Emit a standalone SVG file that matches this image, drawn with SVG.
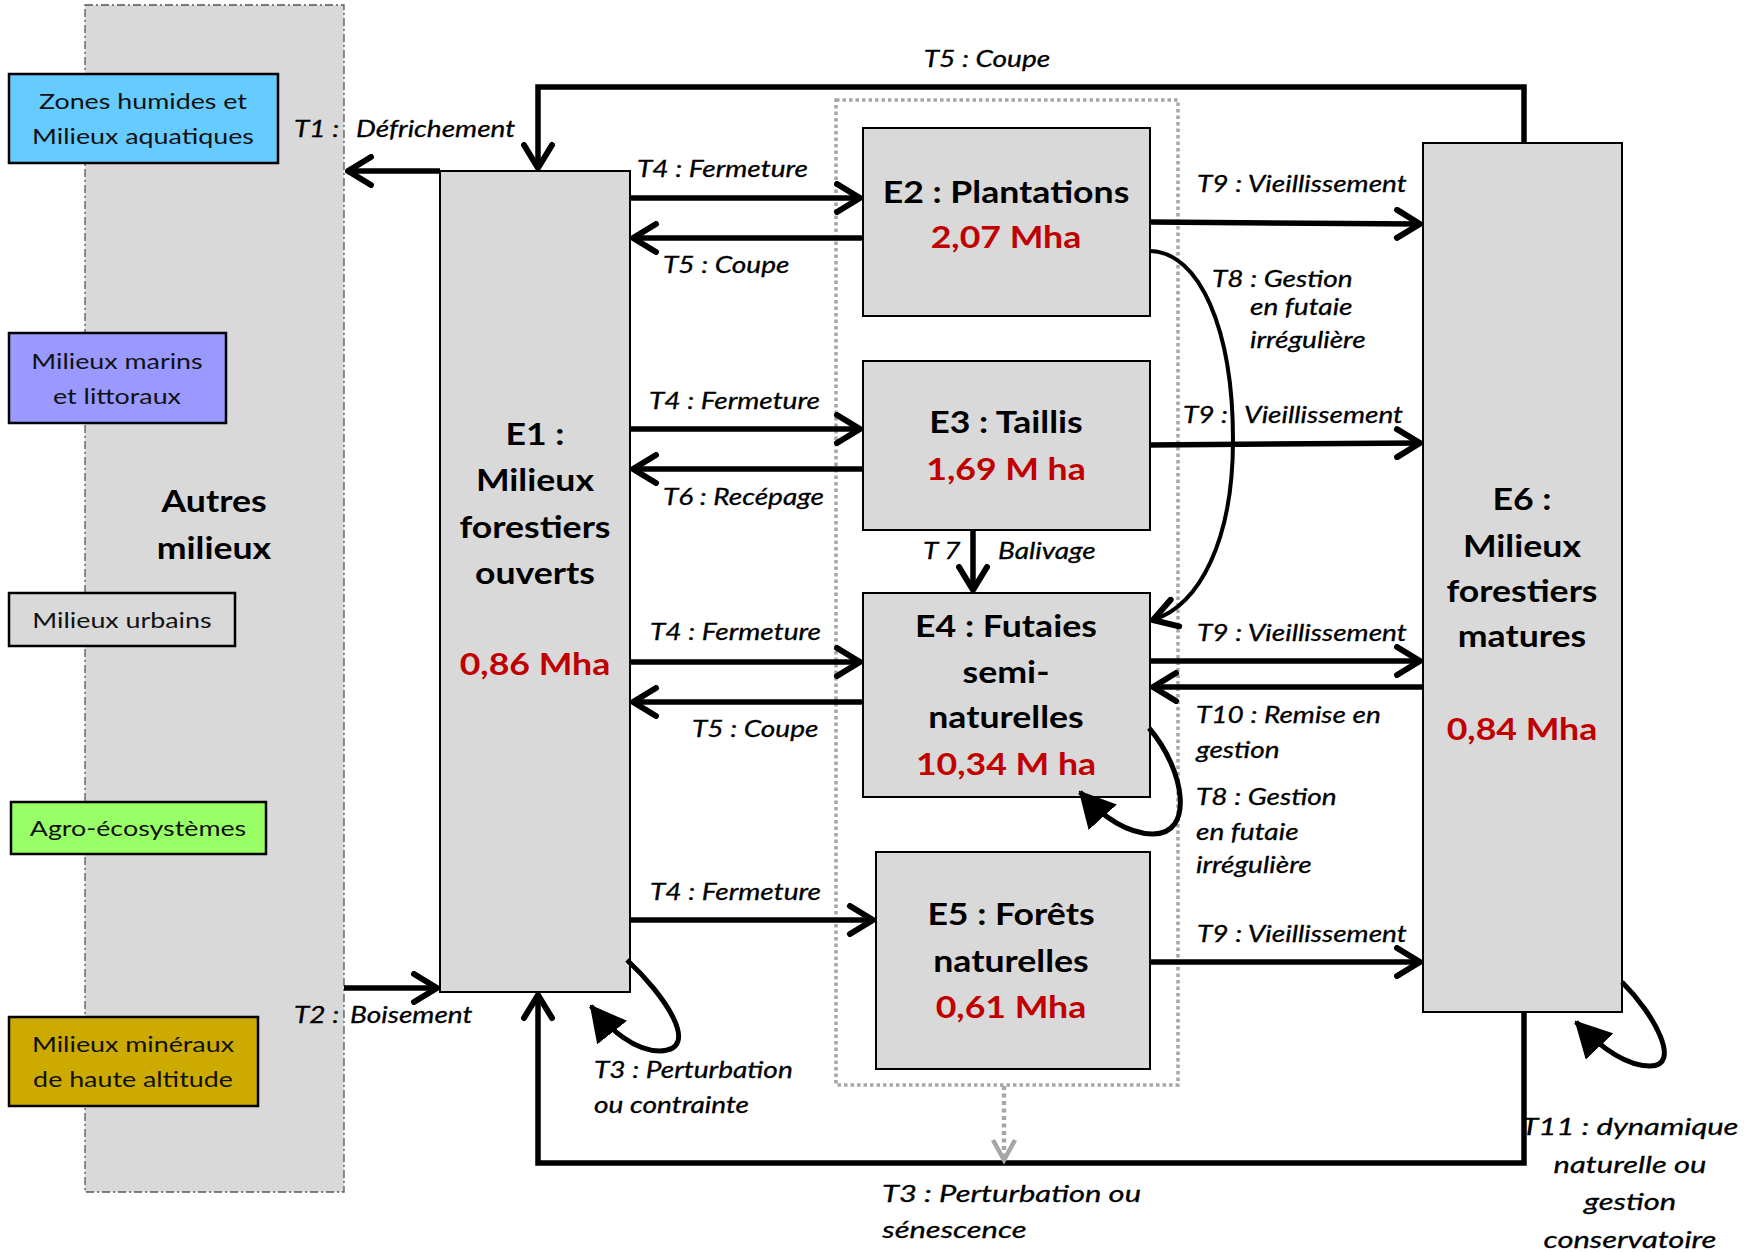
<svg xmlns="http://www.w3.org/2000/svg" width="1754" height="1252" viewBox="0 0 1754 1252">
<style>
.box{fill:#d9d9d9;stroke:#000;stroke-width:2}
.sbox{stroke:#000;stroke-width:2.5}
.sm{font-family:Lato,'Open Sans',sans-serif;font-size:22px;fill:#111;text-anchor:middle;transform-box:fill-box;transform-origin:50% 50%;transform:scaleX(1.22)}
.ttl{font-family:Lato,'Open Sans',sans-serif;font-weight:bold;font-size:31px;fill:#000;text-anchor:middle;transform-box:fill-box;transform-origin:50% 50%;transform:scaleX(1.15)}
.red{fill:#c00000}
.lbl{font-family:Lato,'Open Sans',sans-serif;font-style:italic;font-size:23px;fill:#000;stroke:#000;stroke-width:0.3;transform-box:fill-box;transform-origin:0 50%;transform:scaleX(1.22)}
.mid{text-anchor:middle;transform-origin:50% 50%}
.big{font-size:24px;transform:scaleX(1.29)}
.ln{fill:none;stroke:#000;stroke-width:5.5;marker-end:url(#ch)}
.loop{fill:none;stroke:#000;stroke-width:5;marker-end:url(#tri)}
</style>
<defs>
<marker id="ch" markerUnits="userSpaceOnUse" viewBox="0 0 34 34" refX="29" refY="17" markerWidth="34" markerHeight="34" orient="auto"><path d="M6,3 L29,17 L6,31" fill="none" stroke="#000" stroke-width="6" stroke-linecap="round" stroke-linejoin="round"/></marker>
<marker id="chg" markerUnits="userSpaceOnUse" viewBox="0 0 30 30" refX="26" refY="15" markerWidth="30" markerHeight="30" orient="auto"><path d="M6,4 L26,15 L6,26" fill="none" stroke="#a6a6a6" stroke-width="4.5" stroke-linecap="butt" stroke-linejoin="miter"/></marker>
<marker id="tri" markerUnits="userSpaceOnUse" viewBox="0 0 36 38" refX="34" refY="19" markerWidth="36" markerHeight="38" orient="auto"><path d="M0,0 L36,19 L0,38 Z" fill="#000"/></marker>
</defs>
<rect width="1754" height="1252" fill="#fff"/>

<g id="autres-milieux">
<rect x="85" y="5" width="259" height="1187" fill="#d9d9d9" stroke="#555" stroke-width="1.3" stroke-dasharray="8,3,2,3"/>
<text class="ttl" x="214" y="512" font-size="32">Autres</text>
<text class="ttl" x="214" y="559" font-size="32">milieux</text>
</g>
<g id="zones-humides">
<rect class="sbox" x="9" y="74" width="269" height="89" fill="#66ccff"/>
<text class="sm" x="143" y="109">Zones humides et</text>
<text class="sm" x="143" y="144">Milieux aquatiques</text>
</g>
<g id="milieux-marins">
<rect class="sbox" x="9" y="333" width="217" height="90" fill="#9999ff"/>
<text class="sm" x="117" y="369">Milieux marins</text>
<text class="sm" x="117" y="404">et littoraux</text>
</g>
<g id="milieux-urbains">
<rect class="sbox" x="9" y="593" width="226" height="53" fill="#d9d9d9"/>
<text class="sm" x="122" y="628">Milieux urbains</text>
</g>
<g id="agro-ecosystemes">
<rect class="sbox" x="11" y="802" width="255" height="52" fill="#99ff66"/>
<text class="sm" x="138" y="836">Agro-écosystèmes</text>
</g>
<g id="milieux-mineraux">
<rect class="sbox" x="9" y="1017" width="249" height="89" fill="#ccaa00"/>
<text class="sm" x="133" y="1052">Milieux minéraux</text>
<text class="sm" x="133" y="1087">de haute altitude</text>
</g>

<g id="groupe-E2-E5">
<rect x="836" y="100" width="342" height="985" fill="none" stroke="#a6a6a6" stroke-width="3.5" stroke-dasharray="3.5,3"/>
</g>

<g id="E1">
<rect class="box" x="440" y="171" width="190" height="821"/>
<text class="ttl" x="535" y="445">E1 :</text>
<text class="ttl" x="535" y="491">Milieux</text>
<text class="ttl" x="535" y="538">forestiers</text>
<text class="ttl" x="535" y="584">ouverts</text>
<text class="ttl red" x="535" y="675">0,86 Mha</text>
</g>
<g id="E2">
<rect class="box" x="863" y="128" width="287" height="188"/>
<text class="ttl" x="1006" y="203">E2 : Plantations</text>
<text class="ttl red" x="1006" y="248">2,07 Mha</text>
</g>
<g id="E3">
<rect class="box" x="863" y="361" width="287" height="169"/>
<text class="ttl" x="1006" y="433">E3 : Taillis</text>
<text class="ttl red" x="1006" y="480">1,69 M ha</text>
</g>
<g id="E4">
<rect class="box" x="863" y="593" width="287" height="204"/>
<text class="ttl" x="1006" y="637">E4 : Futaies</text>
<text class="ttl" x="1006" y="683">semi-</text>
<text class="ttl" x="1006" y="728">naturelles</text>
<text class="ttl red" x="1006" y="775">10,34 M ha</text>
</g>
<g id="E5">
<rect class="box" x="876" y="852" width="274" height="217"/>
<text class="ttl" x="1011" y="925">E5 : Forêts</text>
<text class="ttl" x="1011" y="972">naturelles</text>
<text class="ttl red" x="1011" y="1018">0,61 Mha</text>
</g>
<g id="E6">
<rect class="box" x="1423" y="143" width="199" height="869"/>
<text class="ttl" x="1522" y="510">E6 :</text>
<text class="ttl" x="1522" y="557">Milieux</text>
<text class="ttl" x="1522" y="602">forestiers</text>
<text class="ttl" x="1522" y="647">matures</text>
<text class="ttl red" x="1522" y="740">0,84 Mha</text>
</g>

<g id="connectors">
<path class="ln" d="M440,171 L348,171"/>
<path class="ln" d="M344,988 L437,988"/>
<path class="ln" d="M1524,143 L1524,87 L538,87 L538,168"/>
<path class="ln" d="M1524,1012 L1524,1163 L538,1163 L538,995"/>
<path d="M1004,1086 L1004,1160" fill="none" stroke="#a6a6a6" stroke-width="4.5" stroke-dasharray="4,3.5" marker-end="url(#chg)"/>
<path class="ln" d="M630,198 L860,198"/>
<path class="ln" d="M863,238 L633,238"/>
<path class="ln" d="M630,429 L860,429"/>
<path class="ln" d="M863,469 L633,469"/>
<path class="ln" d="M630,662 L860,662"/>
<path class="ln" d="M863,702 L633,702"/>
<path class="ln" d="M630,920 L873,920"/>
<path class="ln" d="M973,530 L973,590"/>
<path class="ln" d="M1150,222 L1420,224"/>
<path class="ln" d="M1150,445 L1420,443"/>
<path class="ln" d="M1150,661 L1420,661"/>
<path class="ln" d="M1423,687 L1153,687"/>
<path class="ln" d="M1150,962 L1420,962"/>
<path d="M1150,251 C1200,252 1233,330 1233,440 C1233,540 1200,605 1153,620" fill="none" stroke="#000" stroke-width="4" marker-end="url(#ch)"/>
<path class="loop" d="M1149,728 C1185,770 1195,835 1152,834 C1122,833 1098,812 1080,792"/>
<path class="loop" d="M627,960 C665,995 702,1050 660,1051 C635,1051 610,1030 591,1006"/>
<path class="loop" d="M1622,982 C1655,1015 1682,1066 1650,1066 C1625,1066 1598,1045 1576,1022"/>

<text class="lbl mid" x="987" y="67">T5 : Coupe</text>
<text class="lbl" x="294" y="137">T1 :</text>
<text class="lbl" x="356" y="137">Défrichement</text>
<text class="lbl" x="294" y="1023">T2 :</text>
<text class="lbl" x="350" y="1023">Boisement</text>
<text class="lbl" x="637" y="177">T4 : Fermeture</text>
<text class="lbl" x="663" y="273">T5 : Coupe</text>
<text class="lbl" x="649" y="409">T4 : Fermeture</text>
<text class="lbl" x="663" y="505">T6 : Recépage</text>
<text class="lbl" x="923" y="559">T 7</text>
<text class="lbl" x="998" y="559">Balivage</text>
<text class="lbl" x="650" y="640">T4 : Fermeture</text>
<text class="lbl" x="692" y="737">T5 : Coupe</text>
<text class="lbl" x="650" y="900">T4 : Fermeture</text>
<text class="lbl" x="594" y="1078">T3 : Perturbation</text>
<text class="lbl" x="594" y="1113">ou contrainte</text>
<text class="lbl big" x="882" y="1202">T3 : Perturbation ou</text>
<text class="lbl big" x="882" y="1238">sénescence</text>
<text class="lbl" x="1197" y="192">T9 : Vieillissement</text>
<text class="lbl" x="1212" y="287">T8 : Gestion</text>
<text class="lbl" x="1250" y="315">en futaie</text>
<text class="lbl" x="1250" y="348">irrégulière</text>
<text class="lbl" x="1183" y="423">T9 :</text>
<text class="lbl" x="1244" y="423">Vieillissement</text>
<text class="lbl" x="1197" y="641">T9 : Vieillissement</text>
<text class="lbl" x="1196" y="723">T10 : Remise en</text>
<text class="lbl" x="1196" y="758">gestion</text>
<text class="lbl" x="1196" y="805">T8 : Gestion</text>
<text class="lbl" x="1196" y="840">en futaie</text>
<text class="lbl" x="1196" y="873">irrégulière</text>
<text class="lbl" x="1197" y="942">T9 : Vieillissement</text>
<text class="lbl mid big" x="1630" y="1135">T11 : dynamique</text>
<text class="lbl mid big" x="1630" y="1173">naturelle ou</text>
<text class="lbl mid big" x="1630" y="1210">gestion</text>
<text class="lbl mid big" x="1630" y="1248">conservatoire</text>
</g>
</svg>
